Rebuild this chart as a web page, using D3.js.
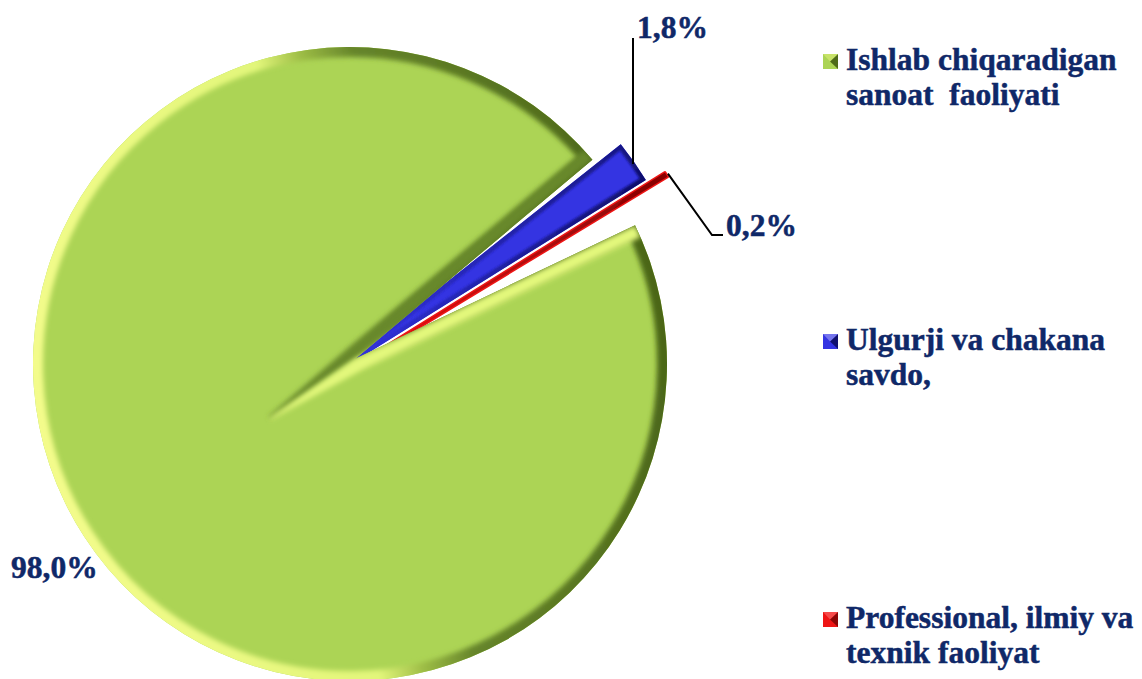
<!DOCTYPE html>
<html>
<head>
<meta charset="utf-8">
<script src="https://cdn.jsdelivr.net/npm/d3@7"></script>
<style>
  html, body { margin: 0; padding: 0; background: #ffffff; }
  svg { display: block; }
</style>
</head>
<body>
<svg id="chart" width="1142" height="679"></svg>
<script>
// ---- data ----
const categories = ["Ishlab chiqaradigan sanoat  faoliyati", "Ulgurji va chakana savdo,", "Professional, ilmiy va texnik faoliyat"];
const values = [98.0, 1.8, 0.2];
const valueLabels = ["98,0%", "1,8%", "0,2%"];
const legendLines = [["Ishlab chiqaradigan", "sanoat  faoliyati"], ["Ulgurji va chakana", "savdo,"], ["Professional, ilmiy va", "texnik faoliyat"]];
const colors = ["#acd455", "#3434e2", "#ee1515"];
const darkColors = ["#4f6b1a", "#10106e", "#8a0505"];
const lightColors = ["#f2fb88", "#d8d8ff", "#ff9a9a"];

// ---- layout ----
const svg = d3.select("#chart");
const deg = Math.PI / 180;
const cx = 350, cy = 364, R = 317;      // outline circle of the big slice
const ax = 270, ay = 418;                // apex of the pie (perspective)
const textColor = "#0f2868";
const font = "'Liberation Serif', 'Times New Roman', serif";

const pie = d3.pie().sort(null).value(d => d).startAngle(58.8 * deg).endAngle(58.8 * deg + 2 * Math.PI);
const arcs = pie(values);

const defs = svg.append("defs");
function addBlur(id, sd) {
  defs.append("filter").attr("id", id).attr("x", "-20%").attr("y", "-20%").attr("width", "140%").attr("height", "140%")
    .append("feGaussianBlur").attr("stdDeviation", sd);
}
addBlur("soft", 2.4);
addBlur("soft2", 1.2);

const dir = a => [Math.sin(a), -Math.cos(a)];
const from = (p, a, r) => [p[0] + r * Math.sin(a), p[1] - r * Math.cos(a)];
const A = [ax, ay];
const line = d3.line();

// ---- small exploded slices (drawn first, the big slice overlaps their tips) ----
const explode = [0, 60, 70];
const outerR = [R, 385, 395];
[2, 1].forEach(i => {
  const a = arcs[i];
  const mid = (a.startAngle + a.endAngle) / 2;
  const o = from(A, mid, explode[i]);
  const d = d3.arc().innerRadius(0).outerRadius(outerR[i])(a);
  const grp = svg.append("g").attr("transform", `translate(${o[0]},${o[1]})`);
  defs.append("clipPath").attr("id", "clipS" + i).append("path").attr("d", d);
  const gr = defs.append("linearGradient").attr("id", "rimS" + i).attr("gradientUnits", "userSpaceOnUse")
    .attr("x1", 0).attr("y1", -outerR[i] * 0.9).attr("x2", outerR[i] * 0.95).attr("y2", -outerR[i] * 0.3);
  [[0, lightColors[i]], [0.45, colors[i]], [0.8, darkColors[i]], [1, darkColors[i]]]
    .forEach(s => gr.append("stop").attr("offset", s[0]).attr("stop-color", s[1]));
  grp.append("path").attr("d", d).attr("fill", colors[i])
    .attr("stroke", i === 2 ? colors[i] : "#ffffff").attr("stroke-width", i === 2 ? 3 : 1.5)
    .attr("paint-order", "stroke").attr("stroke-linejoin", "round");
  grp.append("g").attr("clip-path", `url(#clipS${i})`)
    .append("path").attr("d", d).attr("fill", "none").attr("stroke", `url(#rimS${i})`)
    .attr("stroke-width", 9).attr("filter", "url(#soft2)");
});

// ---- green slice ----
const blue = arcs[1], red = arcs[2];
const gapMid = (blue.startAngle + red.endAngle) / 2;
const G = from(A, gapMid, 104);                 // where the gap opens
const upA = blue.startAngle - 1.6 * deg;        // upper edge of gap
const loA = red.endAngle + 5.7 * deg;           // lower edge of gap
function hitCircle(p, a) {
  const u = dir(a), w = [p[0] - cx, p[1] - cy];
  const b = w[0] * u[0] + w[1] * u[1];
  const c = w[0] * w[0] + w[1] * w[1] - R * R;
  const t = -b + Math.sqrt(b * b - c);
  return [p[0] + t * u[0], p[1] + t * u[1]];
}
const Pu = hitCircle(G, upA), Pl = hitCircle(G, loA);
const cAng = p => Math.atan2(p[0] - cx, -(p[1] - cy));
let phL = cAng(Pl), phU = cAng(Pu);
if (phU < phL) phU += 2 * Math.PI;
const gp = d3.path();
gp.moveTo(G[0], G[1]);
gp.lineTo(Pl[0], Pl[1]);
gp.arc(cx, cy, R, phL - Math.PI / 2, phU - Math.PI / 2, false);
gp.closePath();
const greenD = gp.toString();

defs.append("clipPath").attr("id", "clipGreen").append("path").attr("d", greenD);
const rimGrad = defs.append("linearGradient").attr("id", "rimGreen").attr("gradientUnits", "userSpaceOnUse")
  .attr("x1", cx - R).attr("y1", cy + R * 0.2).attr("x2", cx + R).attr("y2", cy - R * 0.2);
[[0, "#f4fc8c"], [0.45, "#e2f67a"], [0.52, "#9cbc45"], [0.6, "#66852a"], [1, "#4a6518"]]
  .forEach(s => rimGrad.append("stop").attr("offset", s[0]).attr("stop-color", s[1]));

const gG = svg.append("g");
gG.append("path").attr("d", greenD).attr("fill", colors[0]);
const gClip = gG.append("g").attr("clip-path", "url(#clipGreen)");
gClip.append("path").attr("d", greenD).attr("fill", "none").attr("stroke", "url(#rimGreen)")
  .attr("stroke-width", 20).attr("filter", "url(#soft)");

const nU = (() => { const u = dir(upA); return [u[1], -u[0]]; })();
const nL = (() => { const u = dir(loA); return [-u[1], u[0]]; })();
const bw = 13;
const off = (p, n, k) => [p[0] + n[0] * k, p[1] + n[1] * k];
gClip.append("path").attr("d", line([A, G, Pu, off(Pu, nU, bw), off(G, nU, bw), off(A, nU, 2)]) + "Z")
  .attr("fill", "#67882a").attr("filter", "url(#soft)");
gClip.append("path").attr("d", line([A, G, Pl, off(Pl, nL, bw), off(G, nL, bw), off(A, nL, 2)]) + "Z")
  .attr("fill", "#e3f87c").attr("filter", "url(#soft)");

// ---- data labels & leader lines ----
const fs = 31.5;
const labelG = svg.append("g").attr("font-family", font).attr("font-weight", "bold")
  .attr("font-size", fs).attr("fill", textColor).attr("stroke", textColor).attr("stroke-width", 0.5);

labelG.append("text").attr("x", 11).attr("y", 578).text(valueLabels[0]);

{
  const a = arcs[1];
  const mid = (a.startAngle + a.endAngle) / 2;
  const o = from(A, mid, explode[1]);
  const endPt = from(o, a.startAngle + (a.endAngle - a.startAngle) * 0.55, outerR[1] - 8);
  svg.append("path").attr("d", line([[633, endPt[1] - 4], [633, 38]]))
    .attr("fill", "none").attr("stroke", "#000").attr("stroke-width", 2);
  labelG.append("text").attr("x", 637).attr("y", 38).text(valueLabels[1]);
}
{
  const a = arcs[2];
  const mid = (a.startAngle + a.endAngle) / 2;
  const o = from(A, mid, explode[2]);
  const endPt = from(o, mid, outerR[2] + 2);
  svg.append("path").attr("d", line([endPt, [712, 235], [723, 235]]))
    .attr("fill", "none").attr("stroke", "#000").attr("stroke-width", 2);
  labelG.append("text").attr("x", 726).attr("y", 236).text(valueLabels[2]);
}

// ---- legend ----
const legendY = [70, 350, 628];
const lineGap = 35;
const legend = svg.append("g");
categories.forEach((c, i) => {
  const y = legendY[i];
  const mk = legend.append("g").attr("transform", `translate(823,${y - 16})`);
  mk.append("rect").attr("width", 15).attr("height", 15).attr("fill", colors[i]);
  mk.append("path").attr("d", "M15,0 L7,7.5 L15,15 Z").attr("fill", darkColors[i]);
  mk.append("path").attr("d", "M0,0 L15,0 L7,7.5 Z").attr("fill", lightColors[i]).attr("opacity", 0.4);
  const t = legend.append("text").attr("font-family", font).attr("font-weight", "bold")
    .attr("font-size", fs).attr("fill", textColor).attr("stroke", textColor).attr("stroke-width", 0.5)
    .attr("xml:space", "preserve");
  legendLines[i].forEach((ln, j) => {
    t.append("tspan").attr("x", 846).attr("y", y + j * lineGap).text(ln);
  });
});
</script>
</body>
</html>
